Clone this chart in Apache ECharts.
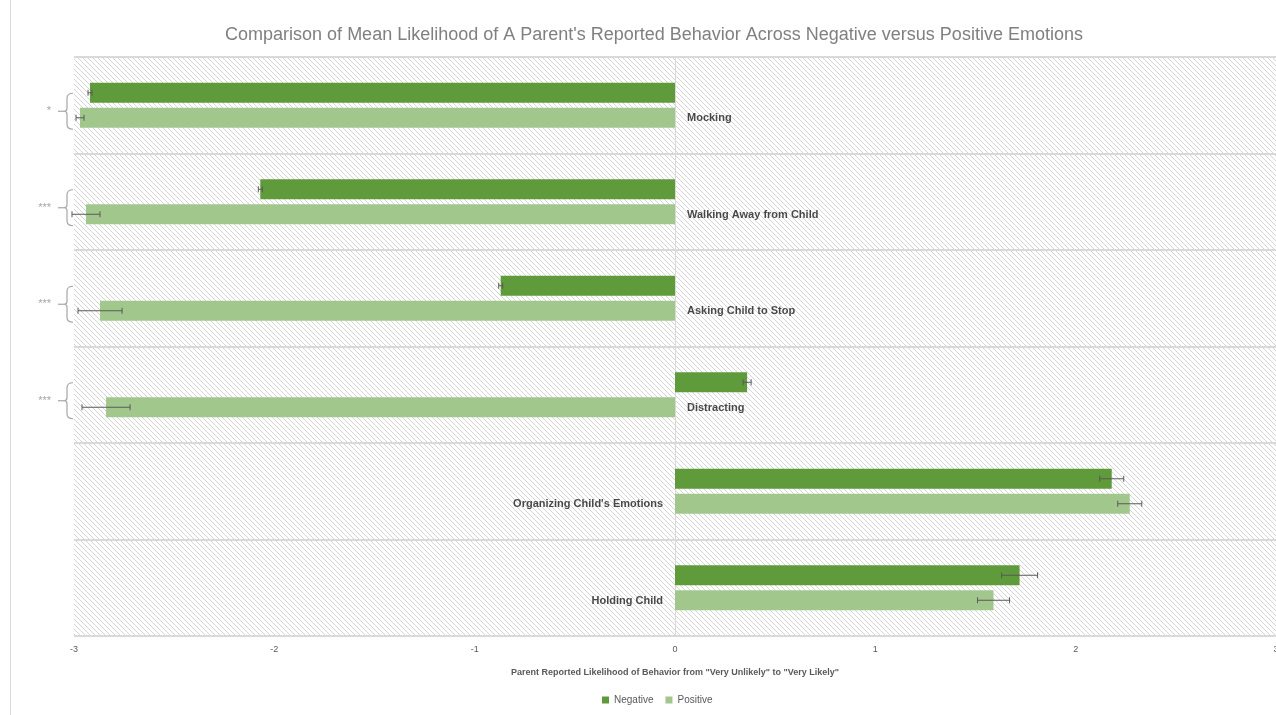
<!DOCTYPE html>
<html><head><meta charset="utf-8">
<script src="https://cdn.jsdelivr.net/npm/echarts@6/dist/echarts.min.js"></script>
<style>html,body{margin:0;padding:0;background:#fff;overflow:hidden}#c{width:1276px;height:715px}</style>
</head><body><div id="c"></div>
<script>
const categories = ['Mocking', 'Walking Away from Child', 'Asking Child to Stop', 'Distracting', "Organizing Child's Emotions", 'Holding Child'];
const negative = [-2.92, -2.07, -0.87, 0.36, 2.18, 1.72];
const positive = [-2.97, -2.94, -2.87, -2.84, 2.27, 1.59];
const negativeErr = [0.01, 0.01, 0.01, 0.02, 0.06, 0.09];
const positiveErr = [0.02, 0.07, 0.11, 0.12, 0.06, 0.08];
const significance = ['*', '***', '***', '***', '', ''];
const xTicks = [-3, -2, -1, 0, 1, 2, 3];

const pc = document.createElement('canvas');
pc.width = 5; pc.height = 5;
const g = pc.getContext('2d');
g.fillStyle = '#ffffff'; g.fillRect(0, 0, 5, 5);
g.strokeStyle = '#d4d4d4'; g.lineWidth = 1;
g.beginPath(); g.moveTo(-1, -1); g.lineTo(6, 6); g.moveTo(-1, 4); g.lineTo(1, 6); g.moveTo(4, -1); g.lineTo(6, 1); g.stroke();

const BAR_W = 20, BAR_GAP = 5;
const chart = echarts.init(document.getElementById('c'));

function errItem(sign) {
  return function (params, api) {
    const v = api.value(0), idx = api.value(1), e = api.value(2);
    const c = api.coord([v, idx]);
    const y = c[1] + sign * (BAR_W + BAR_GAP) / 2;
    const x1 = api.coord([v - e, idx])[0], x2 = api.coord([v + e, idx])[0];
    const st = { stroke: '#5a5a5a', lineWidth: 1 };
    return { type: 'group', children: [
      { type: 'line', shape: { x1: x1, y1: y, x2: x2, y2: y }, style: st },
      { type: 'line', shape: { x1: x1, y1: y - 3, x2: x1, y2: y + 3 }, style: st },
      { type: 'line', shape: { x1: x2, y1: y - 3, x2: x2, y2: y + 3 }, style: st }
    ] };
  };
}

const bracketData = [];
significance.forEach((s, i) => { if (s) bracketData.push([-3, i, s]); });

chart.setOption({
  animation: false,
  title: { text: "Comparison of Mean Likelihood of A Parent's Reported Behavior Across Negative versus Positive Emotions",
    left: 649, textAlign: 'center', top: 21,
    textStyle: { fontFamily: 'Liberation Sans', fontSize: 18, fontWeight: 'normal', color: '#808080' } },
  legend: { bottom: 5, left: 597, itemWidth: 7, itemHeight: 7, itemGap: 12, icon: 'rect',
    textStyle: { fontFamily: 'Liberation Sans', fontSize: 10, color: '#595959' },
    data: ['Negative', 'Positive'] },
  grid: { left: 74, right: 0, top: 57, bottom: 79, show: true, borderWidth: 0,
    containLabel: false, outerBoundsMode: 'none',
    backgroundColor: { image: pc, repeat: 'repeat' } },
  xAxis: { type: 'value', min: -3, max: 3, interval: 1,
    axisLine: { show: false }, axisTick: { show: false }, splitLine: { show: false },
    axisLabel: { fontFamily: 'Liberation Sans', fontSize: 9, color: '#595959', margin: 9,
      formatter: v => xTicks.includes(v) ? String(v) : '' },
    name: 'Parent Reported Likelihood of Behavior from "Very Unlikely" to "Very Likely"',
    nameLocation: 'middle', nameGap: 32,
    nameTextStyle: { fontFamily: 'Liberation Sans', fontSize: 9, fontWeight: 'bold', color: '#595959' } },
  yAxis: { type: 'category', data: categories, inverse: true,
    axisLine: { show: true, onZero: true, lineStyle: { color: '#d9d9d9', width: 1 } },
    axisTick: { show: false }, axisLabel: { show: false },
    splitLine: { show: true, lineStyle: { color: '#d9d9d9', width: 2 } } },
  series: [
    { name: 'Negative', type: 'bar', data: negative, barWidth: BAR_W, barGap: '25%',
      itemStyle: { color: '#5f9a3b' }, z: 2 },
    { name: 'Positive', type: 'bar', data: positive, barWidth: BAR_W,
      itemStyle: { color: '#a2c78d' }, z: 2 },
    { type: 'custom', renderItem: errItem(-1), z: 5, silent: true,
      data: negative.map((v, i) => [v, i, negativeErr[i]]) },
    { type: 'custom', renderItem: errItem(1), z: 5, silent: true,
      data: positive.map((v, i) => [v, i, positiveErr[i]]) },
    { type: 'scatter', symbolSize: 0, silent: true, z: 6,
      data: categories.map((c, i) => ({ value: [0, i],
        label: { show: true, position: (negative[i] + positive[i] < 0) ? 'right' : 'left', distance: 12,
          offset: [0, 13], formatter: c, fontFamily: 'Liberation Sans', fontSize: 11, fontWeight: 'bold', color: '#1a1a1a' } })) },
    { type: 'custom', silent: true, clip: false, z: 6,
      data: bracketData,
      renderItem: function (params, api) {
        const c = api.coord([api.value(0), api.value(1)]);
        const x = c[0], y = c[1] + 6;
        const s = api.value(2);
        const st = { stroke: '#a6a6a6', lineWidth: 1.2, fill: null };
        return { type: 'group', children: [
          { type: 'path', shape: { pathData:
            `M${x - 1},${y - 18} Q${x - 7},${y - 18} ${x - 7},${y - 13} L${x - 7},${y - 3} Q${x - 7},${y} ${x - 10},${y} Q${x - 7},${y} ${x - 7},${y + 3} L${x - 7},${y + 13} Q${x - 7},${y + 18} ${x - 1},${y + 18}` },
            style: st },
          { type: 'line', shape: { x1: x - 16, y1: y, x2: x - 10, y2: y }, style: { stroke: '#a6a6a6', lineWidth: 1.2 } },
          { type: 'text', x: x - 23, y: y, style: { text: s, align: 'right', verticalAlign: 'middle',
            fontFamily: 'Liberation Sans', fontSize: 11, fill: '#a6a6a6' } }
        ] };
      } }
  ],
  graphic: [{ type: 'line', shape: { x1: 10.5, y1: 0, x2: 10.5, y2: 715 }, style: { stroke: '#d9d9d9', lineWidth: 1 } }]
});
</script></body></html>
